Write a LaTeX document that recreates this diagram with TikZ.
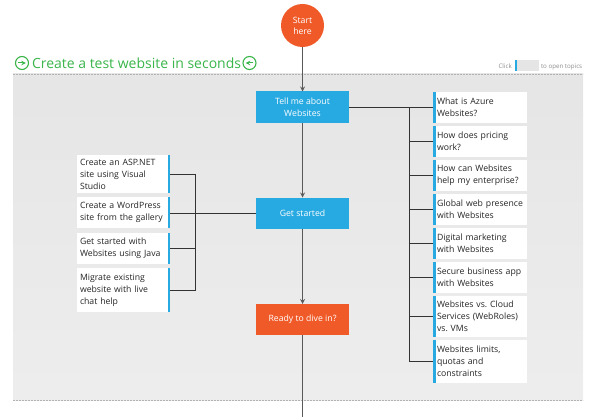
\documentclass[tikz,border=0pt]{standalone}
\usepackage{fontspec}
\setmainfont{Open Sans}
\usepackage{tikz}
\usetikzlibrary{positioning,arrows.meta}
\usepackage{xcolor}
\definecolor{topicblue}{RGB}{39,169,225}
\definecolor{flame}{RGB}{240,90,40}
\definecolor{leafgreen}{RGB}{57,181,74}
\frenchspacing

\begin{document}
\begin{tikzpicture}[x=1pt, y=-1pt, >=stealth,
  every node/.style={outer sep=0pt, font=\fontsize{8.7}{12}\selectfont},
  hub/.style={fill=topicblue, text=white, minimum width=93pt, minimum height=31pt, align=center},
  topicR/.style={fill=white, text=black!85, text width=86pt, inner xsep=4pt, inner ysep=0pt,
    minimum height=31pt, align=left,
    path picture={\fill[topicblue] (path picture bounding box.north west) rectangle ([xshift=2.5pt]path picture bounding box.south west);}},
  topicL/.style={fill=white, text=black!85, text width=87pt, inner xsep=3pt, inner ysep=0pt,
    minimum height=31pt, align=left,
    path picture={\fill[topicblue] ([xshift=-2.5pt]path picture bounding box.north east) rectangle (path picture bounding box.south east);}},
  gocircle/.style={circle, draw=leafgreen, line width=1.1pt, minimum size=13pt, inner sep=0pt},
  legend/.style={anchor=base west, inner sep=0pt, text=black!45, font=\fontsize{6.2}{7}\selectfont},
  spine/.style={black!65, line width=1.2pt},
  bracket/.style={black!80, line width=0.9pt}]
\useasboundingbox (0,0) rectangle (599,417);

% Panel
\fill[top color=black!10, bottom color=black!7] (13,74) rectangle (583,400);
\draw[black!30, line width=0.5pt, dash pattern=on 2pt off 1pt] (13,74) -- (583,74);
\draw[black!30, line width=0.5pt, dash pattern=on 2pt off 1pt] (13,400) -- (583,400);

% Title
\node[gocircle] (goin) at (22,63) {};
\node[anchor=base west, inner sep=0pt, text=leafgreen, font=\fontsize{14}{16}\selectfont] (title) at (32,69) {Create a test website in seconds};
\node[gocircle] (goout) at (249.5,63) {};
\draw[->, leafgreen, line width=1pt] ([xshift=-3.8pt]goin.center) -- ([xshift=3.8pt]goin.center);
\draw[->, leafgreen, line width=1pt] ([xshift=3.8pt]goout.center) -- ([xshift=-3.8pt]goout.center);

% Legend
\node[legend] (click) at (498.5,68.5) {Click};
\node[anchor=north west, fill=black!10, minimum width=24pt, minimum height=11pt, inner sep=0pt,
  path picture={\fill[topicblue] (path picture bounding box.north west) rectangle ([xshift=1.5pt]path picture bounding box.south west);}] (key) at (515,60) {};
\node[legend] (opentopics) at (541,68.5) {to open topics};

% Main path
\node[circle, fill=flame, text=white, minimum size=43pt, inner sep=0pt, align=center,
  font=\fontsize{8.7}{11}\selectfont] (start) at (302.5,25.5) {Start\\here};
\node[hub] (tell) at (302.5,107) {Tell me about\\Websites};
\node[hub] (get) at (302.5,213) {Get started};
\node[hub, fill=flame] (dive) at (302.5,319.5) {Ready to dive in?};
\coordinate (tail) at (302.5,417);

\draw[->, spine] (start) -- (tell);
\draw[->, spine] (tell) -- (get);
\draw[->, spine] (get) -- (dive);
\draw[spine] (dive) -- (tail);

% Topics on the right
\node[topicR, anchor=north west] (r1) at (433,92) {What is Azure\\Websites?};
\node[topicR, below=3pt of r1] (r2) {How does pricing\\work?};
\node[topicR, below=3pt of r2] (r3) {How can Websites\\help my enterprise?};
\node[topicR, below=3pt of r3] (r4) {Global web presence\\with Websites};
\node[topicR, below=3pt of r4] (r5) {Digital marketing\\with Websites};
\node[topicR, below=3pt of r5] (r6) {Secure business app\\with Websites};
\node[topicR, below=3pt of r6, minimum height=41pt] (r7) {Websites vs. Cloud\\Services (WebRoles)\\vs. VMs};
\node[topicR, below=3pt of r7, minimum height=43pt] (r8) {Websites limits,\\quotas and\\constraints};

% Topics on the left
\node[topicL, anchor=north west, minimum height=38pt] (l1) at (77,155) {Create an ASP.NET\\site using Visual\\Studio};
\node[topicL, below=4pt of l1] (l2) {Create a WordPress\\site from the gallery};
\node[topicL, below=5pt of l2] (l3) {Get started with\\Websites using Java};
\node[topicL, below=4pt of l3, minimum height=44pt] (l4) {Migrate existing\\website with live\\chat help};

% Brackets
\coordinate (rbus) at (409,107);
\draw[bracket] (tell.east) -- (tell.east -| r1.west);
\draw[bracket] (tell.east -| rbus) |- (r8.west);
\foreach \i in {2,...,7}
  \draw[bracket] (rbus |- r\i.west) -- (r\i.west);

\coordinate (lbus) at (195,213);
\draw[bracket] (get.west) -- (get.west -| l2.east);
\draw[bracket] (l1.east) -| (lbus |- l4.east) -- (l4.east);
\draw[bracket] (lbus |- l3.east) -- (l3.east);
\end{tikzpicture}
\end{document}
